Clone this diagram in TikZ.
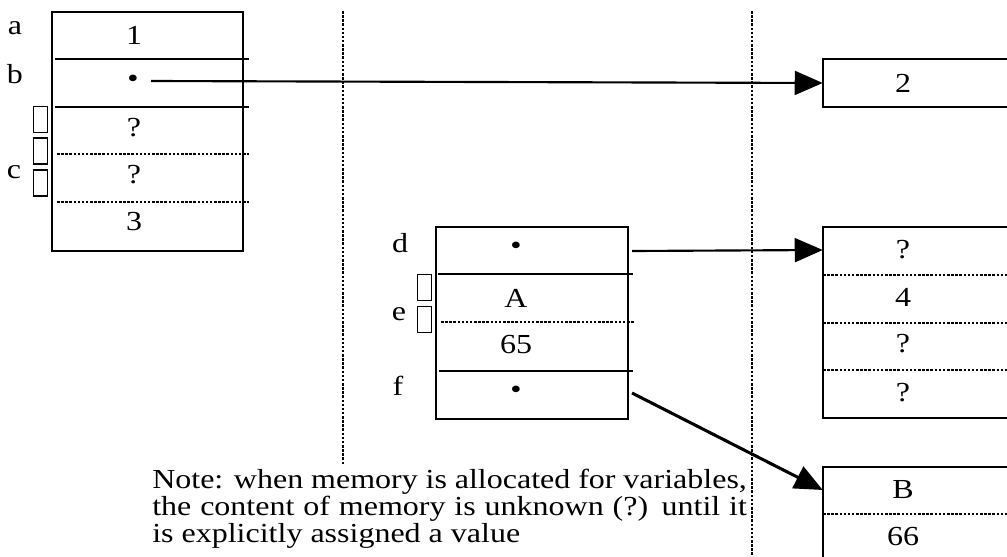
\documentclass[tikz,border=0pt]{standalone}
\usepackage{fontspec}
\setmainfont{Liberation Serif}
\usetikzlibrary{arrows.meta}

\begin{document}
\begin{tikzpicture}[x=0.75pt, y=-0.75pt,
    val/.style={font=\fontsize{24}{23.6}\selectfont, inner sep=0pt, yscale=0.86, transform shape},
    cell/.style={val, minimum width=120pt, minimum height=36pt},
    boxline/.style={line width=1.6pt},
    dotline/.style={line width=2pt, dash pattern=on 1.9pt off 1.2pt},
    ptr/.style={line width=1.6pt, -{Triangle[length=21pt,width=18pt]}},
    glyph/.style={draw, line width=0.9pt, minimum width=11pt, minimum height=19.5pt, inner sep=0pt}]
    \useasboundingbox (0,0) rectangle (1007,557);
    \clip (0,0) rectangle (1007,557);

    % dotted frame lines
    \draw[dotline] (343,11) -- (343,465);
    \draw[dotline] (752,11) -- (752,557);

    % variables a, b, c
    \draw[boxline] (52,12) rectangle (243,251);
    \draw[boxline] (55,59) -- (249,59);
    \draw[boxline] (55,107) -- (249,107);
    \draw[dotline] (57,154) -- (249,154);
    \draw[dotline] (57,202) -- (249,202);

    \foreach \y/\v/\n in {35/1/av, 128/?/cva, 175/?/cvb, 222/3/cvc}
        \node[val] (\n) at (134,\y) {\v};
    \node[val] (bdot) at (133,81) {\textbullet};
    \coordinate (bfrom) at (151,81);

    \foreach \y [count=\i] in {119.5,151,183}
        \node[glyph] (gc\i) at (40.5,\y) {};

    % variables d, e, f
    \draw[boxline] (436,227) rectangle (628,419);
    \draw[boxline] (438,274) -- (633,274);
    \draw[dotline] (441,322) -- (634,322);
    \draw[boxline] (439,371) -- (633,371);

    \node[val] (ddot) at (516,248) {\textbullet};
    \node[val] (ev1) at (516,298) {A};
    \node[val] (ev2) at (516,345) {65};
    \node[val] (fdot) at (516,392) {\textbullet};
    \coordinate (dfrom) at (632,251);
    \coordinate (ffrom) at (632,393);

    \foreach \y [count=\i] in {287.5,319.5}
        \node[glyph] (ge\i) at (424.5,\y) {};

    % names
    \foreach \x/\y/\l in {15/28/a, 15/74/b, 14/172/c, 400/243/d, 399/314/e, 398/386/f}
        \node[val] (lab\l) at (\x,\y) {\l};

    % pointed-to memory
    \draw[boxline] (823,59) rectangle (1030,107);
    \node[cell] (two) at (903,83) {2};

    \draw[boxline] (823,227) rectangle (1030,418);
    \draw[dotline] (823,275) -- (1030,275);
    \draw[dotline] (823,323) -- (1030,323);
    \draw[dotline] (823,370) -- (1030,370);
    \foreach \y/\v/\n in {250/?/ha, 297/4/hb, 344/?/hc, 393/?/hd}
        \node[cell] (\n) at (903,\y) {\v};

    \draw[boxline] (823,467) rectangle (1030,600);
    \draw[dotline] (823,514) -- (1030,514);
    \node[cell] (ba) at (903,490) {B};
    \node[cell] (bb) at (903,537) {66};

    % pointers
    \draw[ptr] (bfrom) -- (two.west);
    \draw[ptr] (dfrom) -- (ha.west);
    \draw[ptr, line width=2.3pt] (ffrom) -- (ba.west);

    \node[val, anchor=base west, text width=446pt, align=justify] (note) at (152,488)
        {Note: when memory is allocated for variables,\linebreak the content of memory is unknown (?) until it\linebreak is explicitly assigned a value};
\end{tikzpicture}
\end{document}
